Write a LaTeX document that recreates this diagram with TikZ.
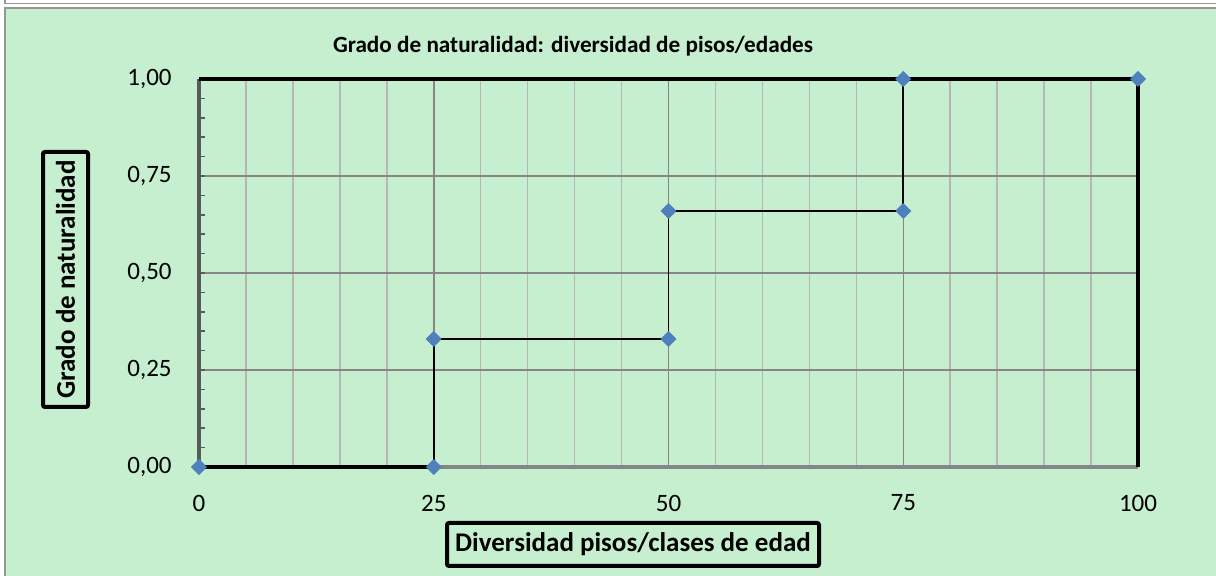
\documentclass[tikz,border=0pt]{standalone}
\usepackage{fontspec}
\setmainfont{Carlito}
\usetikzlibrary{shapes.geometric,positioning}
\definecolor{chartgreen}{RGB}{198,239,208}
\definecolor{frameline}{RGB}{150,150,150}
\definecolor{gridminor}{RGB}{182,182,182}
\definecolor{gridmajor}{RGB}{134,134,134}
\definecolor{axisgray}{RGB}{90,90,90}
\definecolor{markblue}{RGB}{79,129,189}

\tikzset{
    ticklabel/.style={font=\fontsize{12.5}{14}\selectfont, inner sep=0pt},
    axistitle/.style={draw, line width=2pt, rounded corners=1pt, font=\fontsize{13.5}{15}\selectfont\bfseries, inner sep=0pt},
    datamark/.style={diamond, fill=markblue, inner sep=0pt, minimum size=8pt}
}

\begin{document}
\begin{tikzpicture}[x=0.5pt, y=-0.5pt]
    \useasboundingbox (0,0) rectangle (1216,576);
    % outer frame
    \draw[frameline, line width=0.75pt] (5,0) -- (5,3.5) -- (1216,3.5);
    \draw[frameline, fill=chartgreen, line width=0.75pt] (5,8) rectangle (1218,580);

    \node[font=\fontsize{11.6}{14}\selectfont\bfseries] (title) at (573,46) {Grado de naturalidad: diversidad de pisos/edades};

    \begin{scope}[shift={(199,467)}, x=4.695pt, y=194pt]
        % grid
        \foreach \gx in {5,10,...,95} {
            \draw[gridminor, line width=0.75pt] (\gx,0) -- (\gx,1);
        }
        \foreach \gx in {25,50,75} {
            \draw[gridmajor, line width=0.75pt] (\gx,0) -- (\gx,1);
        }
        \foreach \gy in {0.25,0.5,0.75} {
            \draw[gridmajor, line width=0.75pt] (0,\gy) -- (100,\gy);
        }
        % axes and plot border
        \draw[axisgray, line width=1.75pt] (0,1) -- (0,0);
        \foreach \ty in {0.05,0.10,...,0.96} {
            \draw[axisgray, line width=0.75pt] (0,\ty) -- ++(3pt,0);
        }
        \draw[gridmajor, line width=1.75pt] (0,0) -- (100,0);
        \draw[line width=2pt] (0,1) -- (100,1) -- (100,0);

        % tick labels
        \foreach \ty/\tl in {0/{0,00},0.25/{0,25},0.5/{0,50},0.75/{0,75},1/{1,00}} {
            \node[ticklabel, anchor=east] at ([xshift=-13.5pt]0,\ty) {\tl};
        }
        \foreach \tx in {0,25,50,75,100} {
            \node[ticklabel] at ([yshift=-18pt]\tx,0) {\tx};
        }

        % data series
        \node[datamark] (p0) at (0,0) {};
        \node[datamark] (p1) at (25,0) {};
        \node[datamark] (p2) at (25,0.33) {};
        \node[datamark] (p3) at (50,0.33) {};
        \node[datamark] (p4) at (50,0.66) {};
        \node[datamark] (p5) at (75,0.66) {};
        \node[datamark] (p6) at (75,1) {};
        \node[datamark] (p7) at (100,1) {};
        \coordinate (p8) at (100,0);

        \draw[line width=2pt] (p0.center) -- (p1.center);
        \draw[line width=0.9pt] (p1.center) -- (p2.center) -- (p3.center) -- (p4.center) -- (p5.center) -- (p6.center);
        \draw[line width=2pt] (p6.center) -- (p7.center) -- (p8);
        \foreach \p in {p0,p1,p2,p3,p4,p5,p6,p7} {
            \node[datamark] at (\p) {};
        }
    \end{scope}

    % axis titles
    \node[axistitle, rotate=90, minimum width=127.5pt, minimum height=22.5pt] (ytitle) at (65.5,279.5) {Grado de naturalidad};
    \node[axistitle, minimum width=186pt, minimum height=21.5pt] (xtitle) at (633,544.5) {Diversidad pisos/clases de edad};
\end{tikzpicture}
\end{document}
